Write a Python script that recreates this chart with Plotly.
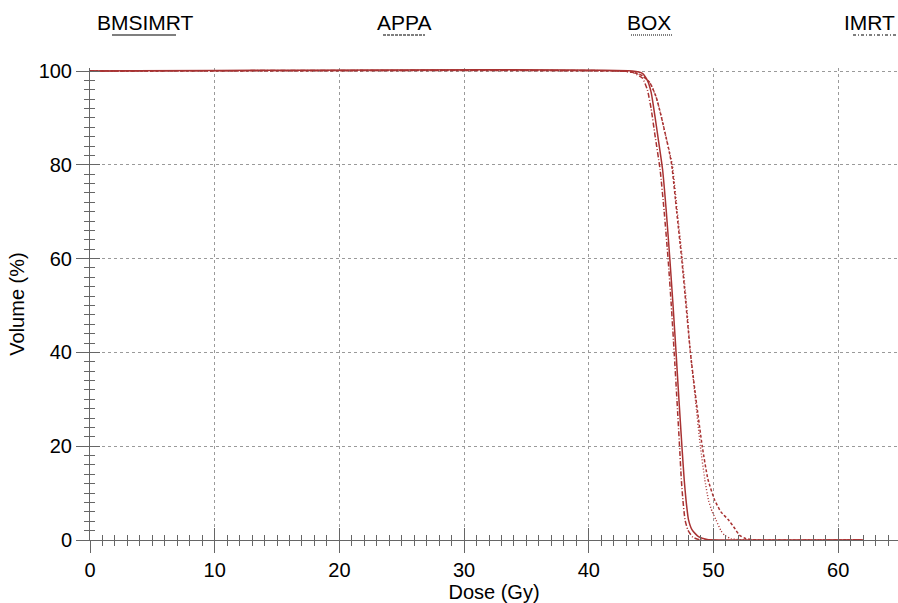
import plotly.graph_objects as go

# ---------------- data ----------------
series_names = ["BMSIMRT", "APPA", "BOX", "IMRT"]

bmsimrt_dose = [0, 43.5, 44.3, 44.7, 45.0, 45.3, 45.6, 45.92, 46.22, 46.5, 46.76, 47.0, 47.23, 47.47, 47.65, 47.8, 48.0, 48.3, 48.8, 49.5, 50.5, 62]
bmsimrt_vol = [100, 100, 99.5, 98, 95.5, 90.5, 85, 79, 70, 60, 50, 40, 30, 20, 13, 8.5, 4.3, 2.1, 0.7, 0.1, 0, 0]

imrt_dose = [0, 42.5, 43.5, 44.3, 44.7, 45.0, 45.3, 45.72, 46.05, 46.36, 46.62, 46.85, 47.07, 47.28, 47.42, 47.55, 47.72, 47.95, 48.35, 49.0, 62]
imrt_vol = [100, 100, 99.7, 98.5, 96, 92, 86.5, 79, 70, 60, 50, 40, 30, 20, 13, 8.5, 4.3, 2.1, 0.6, 0, 0]

appa_dose = [0, 42.5, 43.5, 44.3, 44.9, 45.4, 45.75, 46.1, 46.4, 46.65, 47.05, 47.45, 47.8, 48.15, 48.6, 49.1, 49.55, 50.1, 50.6, 51.2, 51.7, 52.1, 52.6, 53.5, 62]
appa_vol = [100, 100, 99.8, 99, 97.5, 94.5, 91, 87, 83.5, 80, 70, 60, 50, 40, 30, 20, 13, 8.5, 6, 4.3, 2.5, 1, 0.3, 0, 0]

box_dose = [0, 42.5, 43.5, 44.3, 44.9, 45.4, 45.75, 46.1, 46.4, 46.7, 47.1, 47.5, 47.85, 48.15, 48.55, 48.95, 49.3, 49.6, 49.9, 50.2, 50.6, 50.9, 51.4, 52.5, 62]
box_vol = [100, 100, 99.8, 99, 97.5, 94.5, 91, 87, 83.5, 80, 70, 60, 50, 40, 30, 20, 13, 8.5, 6, 4.3, 2, 1, 0.3, 0, 0]

x_ticks = [0, 10, 20, 30, 40, 50, 60]
y_ticks = [0, 20, 40, 60, 80, 100]

# ---------------- style ----------------
W, H = 898, 603
L, R, T, B = 90, 898, 68, 540
RED = "#a83232"
AX = "#666666"
FONT = "Liberation Sans, Arial, sans-serif"
X_RANGE = [0, 64.8]
Y_RANGE = [0, 100.64]

def px_x(p):  # pixel -> paper
    return (p - L) / (R - L)

def px_y(p):
    return (B - p) / (B - T)

styles = {
    "BMSIMRT": dict(dash="solid", width=1.5),
    "APPA": dict(dash="3px,2px", width=1.5),
    "BOX": dict(dash="1px,2px", width=1.4),
    "IMRT": dict(dash="5px,2px,1px,2px", width=1.5),
}
legend_dash = {"BMSIMRT": "solid", "APPA": "3px,1px", "BOX": "1px,1px", "IMRT": "3px,2px,1px,2px"}
data = {
    "BMSIMRT": (bmsimrt_dose, bmsimrt_vol),
    "APPA": (appa_dose, appa_vol),
    "BOX": (box_dose, box_vol),
    "IMRT": (imrt_dose, imrt_vol),
}

fig = go.Figure()
for name in ["APPA", "BOX", "IMRT", "BMSIMRT"]:
    xs, ys = data[name]
    fig.add_trace(go.Scatter(x=xs, y=ys, mode="lines", name=name,
                             line=dict(color=RED, shape="spline", smoothing=0.5, **styles[name]),
                             showlegend=False, cliponaxis=False))

# invisible trace for the overlay (inside ticks) axes
fig.add_trace(go.Scatter(x=[None], y=[None], xaxis="x2", yaxis="y2",
                         showlegend=False, hoverinfo="skip"))

fig.update_layout(
    width=W, height=H,
    margin=dict(l=L, r=W - R, t=T, b=H - B, pad=0),
    paper_bgcolor="white", plot_bgcolor="white",
    font=dict(family=FONT, size=20, color="black"),
    showlegend=False,
    xaxis=dict(range=X_RANGE, tickvals=x_ticks, ticks="outside", ticklen=12,
               tickcolor=AX, tickwidth=1, showline=True, linecolor=AX, linewidth=1,
               showgrid=True, gridcolor="#9a9a9a", griddash="dot", gridwidth=1,
               zeroline=False, tickfont=dict(size=20), automargin=False,
               minor=dict(dtick=1, ticks="outside", ticklen=5, tickcolor=AX, showgrid=False),
               title=dict(text="Dose (Gy)", font=dict(size=20), standoff=4)),
    yaxis=dict(range=Y_RANGE, tickvals=y_ticks, ticks="outside", ticklen=13,
               tickcolor=AX, tickwidth=1, showline=True, linecolor=AX, linewidth=1,
               showgrid=True, gridcolor="#9a9a9a", griddash="dot", gridwidth=1,
               zeroline=False, tickfont=dict(size=20), automargin=False,
               minor=dict(dtick=2, ticks="outside", ticklen=5, tickcolor=AX, showgrid=False),
               title=dict(text="Volume (%)", font=dict(size=20), standoff=8)),
    xaxis2=dict(range=X_RANGE, overlaying="x", anchor="y2", side="bottom",
                tickvals=x_ticks, ticks="inside", ticklen=12, tickcolor=AX,
                showticklabels=False, showgrid=False, showline=False, zeroline=False,
                automargin=False,
                minor=dict(dtick=1, ticks="inside", ticklen=5, tickcolor=AX, showgrid=False)),
    yaxis2=dict(range=Y_RANGE, overlaying="y", anchor="x2", side="left",
                tickvals=y_ticks, ticks="inside", ticklen=10, tickcolor=AX,
                showticklabels=False, showgrid=False, showline=False, zeroline=False,
                automargin=False,
                minor=dict(dtick=2, ticks="inside", ticklen=5, tickcolor=AX, showgrid=False)),
)

# custom legend across the top (positions in pixels)
legend_pos = {"BMSIMRT": (145, "center"), "APPA": (404, "center"), "BOX": (649, "center"), "IMRT": (897, "right")}
legend_lines = {"BMSIMRT": (112, 176), "APPA": (383, 425), "BOX": (631, 672), "IMRT": (853, 897)}
for name in series_names:
    xp, anc = legend_pos[name]
    fig.add_annotation(text=name, xref="paper", yref="paper",
                       x=px_x(xp), y=px_y(22),
                       xanchor=anc, yanchor="middle", showarrow=False,
                       font=dict(family=FONT, size=21, color="black"))
    x0, x1 = legend_lines[name]
    fig.add_shape(type="line", xref="paper", yref="paper",
                  x0=px_x(x0), x1=px_x(x1), y0=px_y(35), y1=px_y(35),
                  line=dict(color="#555555", width=1.6 if name == "BMSIMRT" else 1.3,
                            dash=legend_dash[name]))

fig.write_html(
    "out.html",
    config={"displayModeBar": False},
    post_script="document.body.style.margin='0';document.body.style.overflow='hidden';",
)
